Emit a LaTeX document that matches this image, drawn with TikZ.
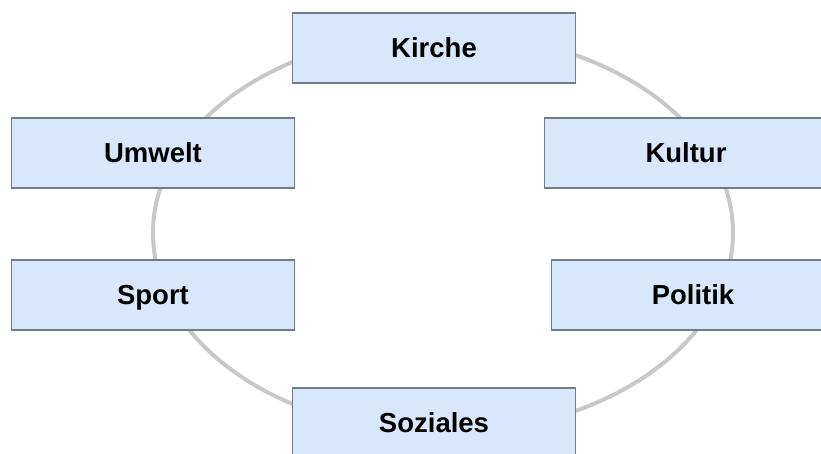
\documentclass[tikz,border=0pt]{standalone}
\usepackage{fontspec}
\setmainfont{Liberation Sans}
\definecolor{boxfill}{HTML}{D8E8FC}
\definecolor{boxline}{HTML}{737C86}
\definecolor{ring}{HTML}{C8C8C8}

\begin{document}
\begin{tikzpicture}[x=1pt, y=-1pt,
		area/.style={draw=boxline, line width=1.2pt, fill=boxfill, minimum width=283pt, minimum height=70pt, inner sep=0pt, text height=19.5pt, text depth=0pt, font=\fontsize{27.5}{30}\selectfont\bfseries}]
			\useasboundingbox (0, 0) rectangle (821, 453);
			\coordinate (m) at (443, 233);
		
			\draw[ring, line width=4pt] (m) ellipse [x radius=290, y radius=200];
			
			\node[area] (kirche) at (434, 48) {Kirche};
			\node[area] (umwelt) at (153, 153) {Umwelt};
			\node[area] (kultur) at (686, 153) {Kultur};
			\node[area] (sport) at (153, 295) {Sport};
			\node[area] (politik) at (693, 295) {Politik};
			\node[area] (soziales) at (434, 423) {Soziales};
		\end{tikzpicture}
\end{document}
